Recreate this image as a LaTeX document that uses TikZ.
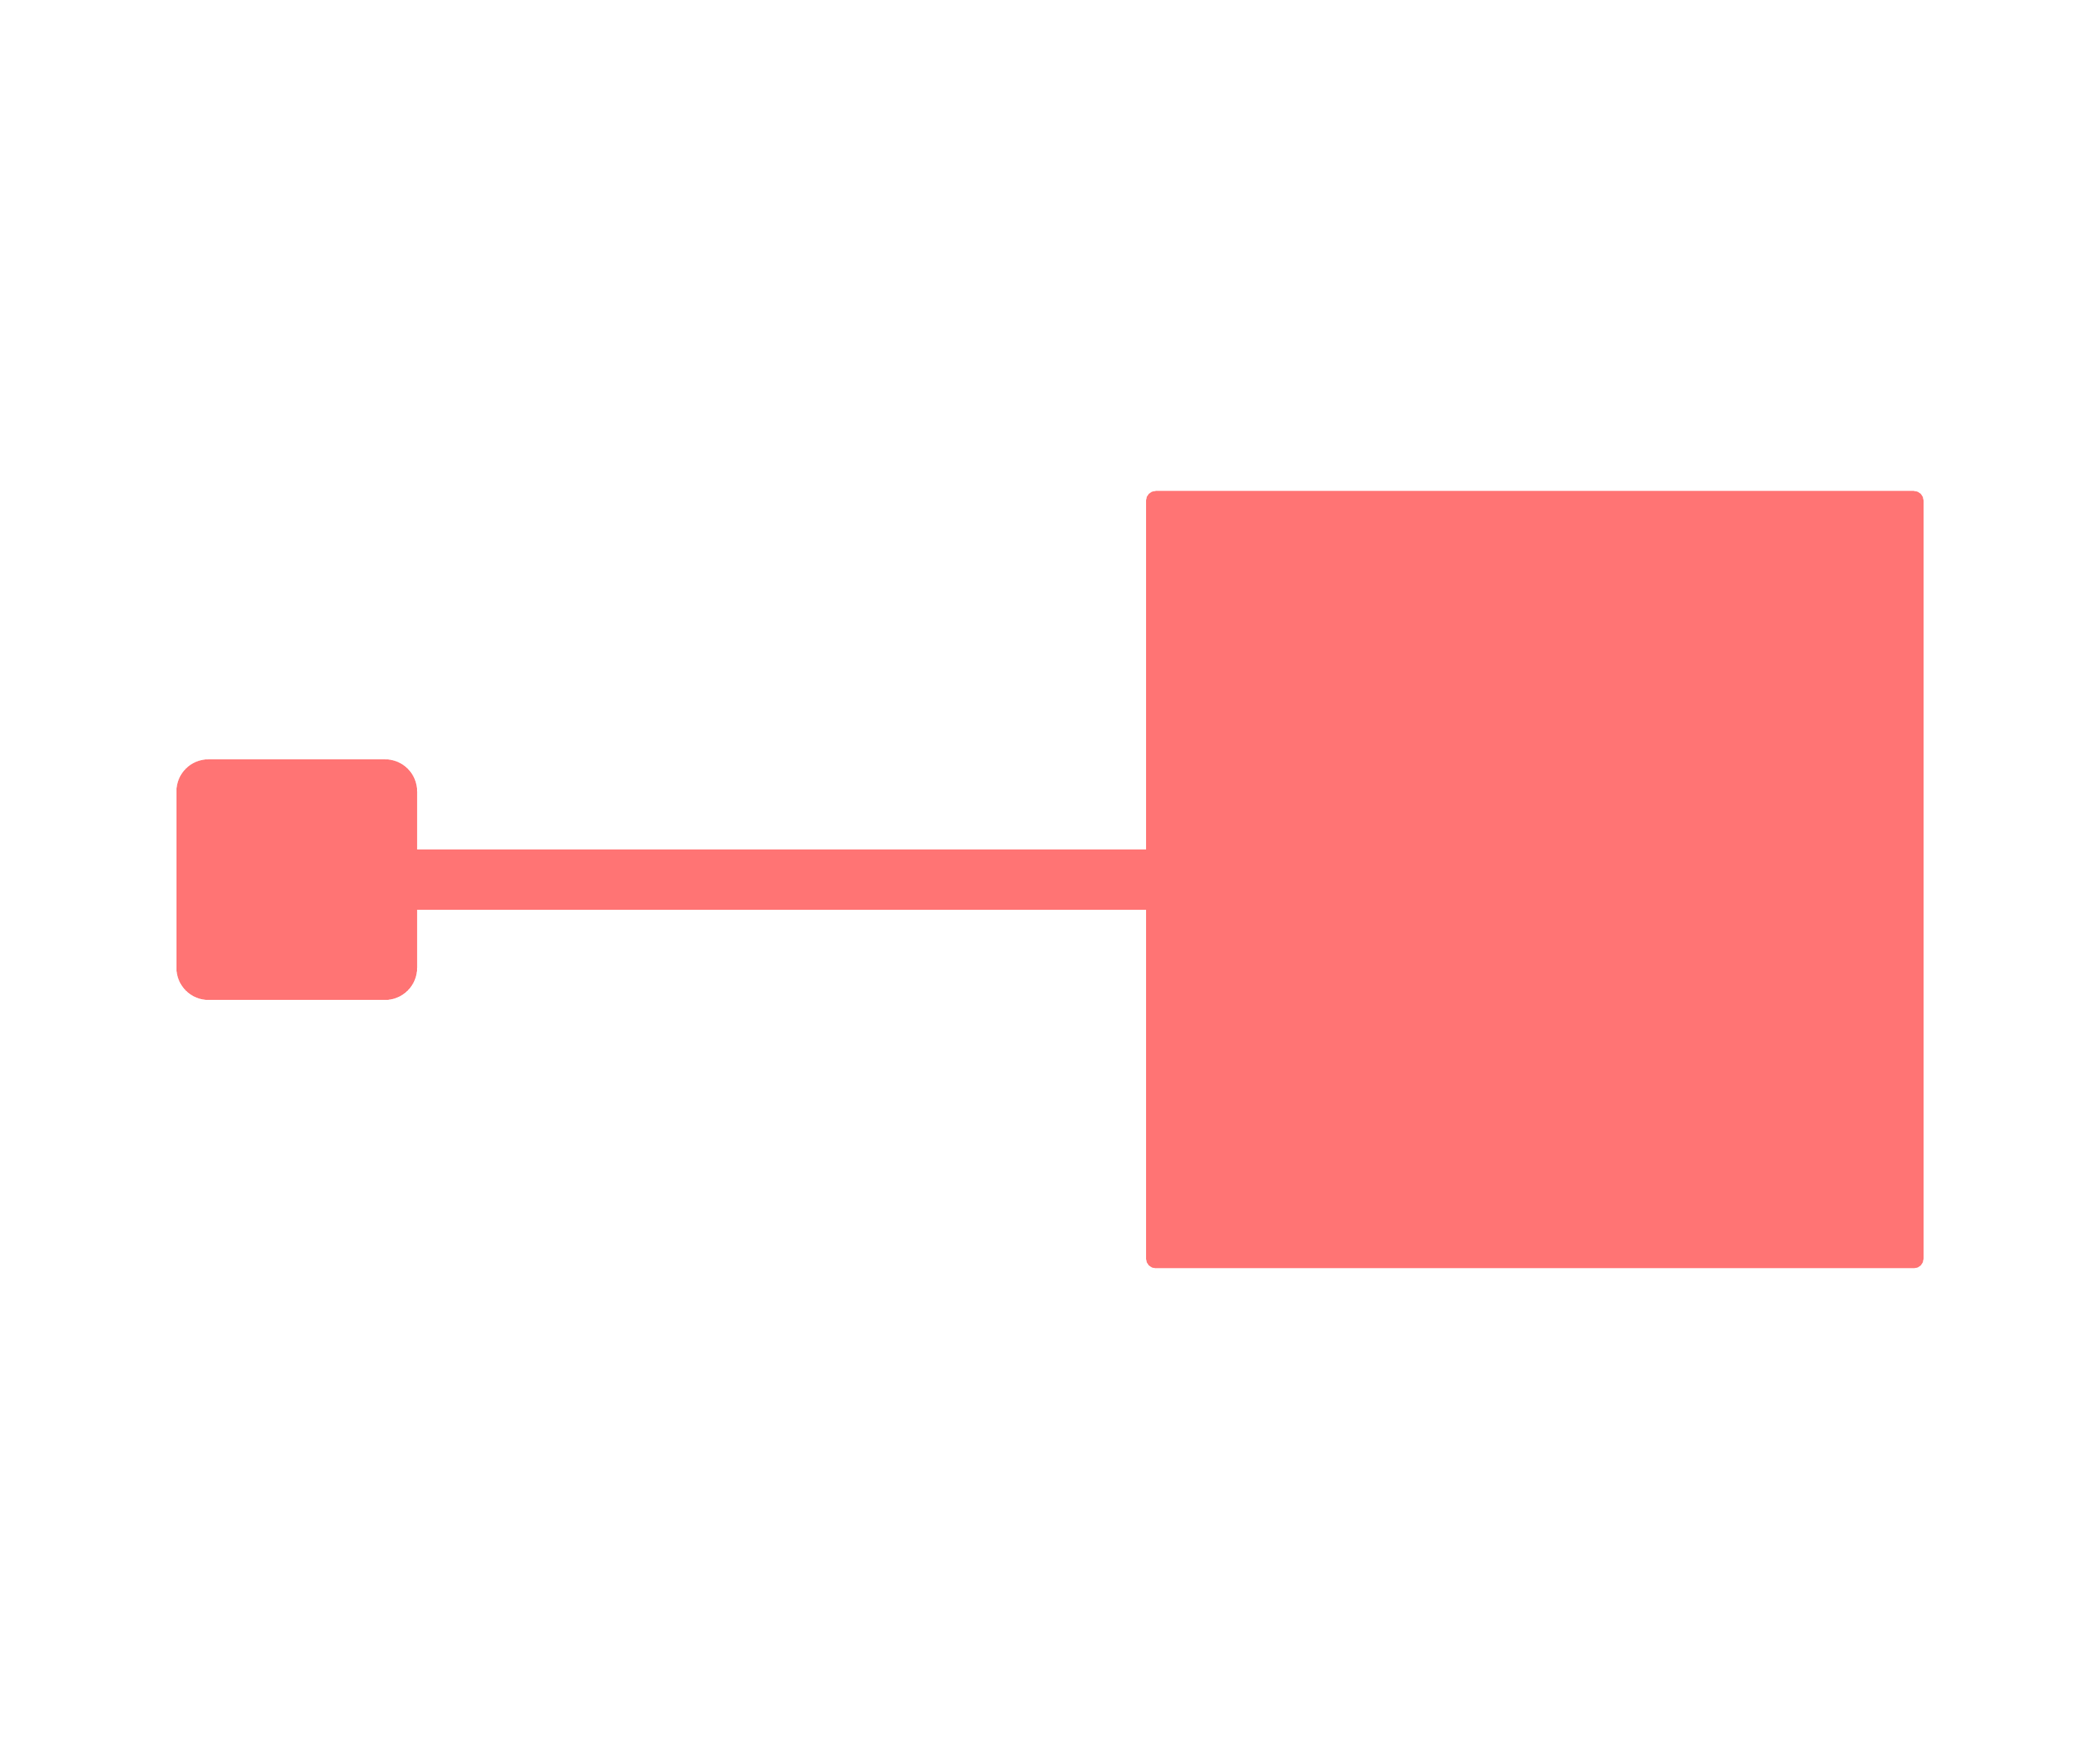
\documentclass[tikz,border=0pt]{standalone}
\usepackage{tikz}
\usetikzlibrary{positioning}
\definecolor{salmon}{HTML}{FF7474}

\begin{document}
\begin{tikzpicture}[
        smallbox/.style={fill=salmon, draw=none, inner sep=0, outer sep=0, minimum size=3.23cm, rounded corners=0.43cm},
        bigbox/.style={fill=salmon, draw=none, inner sep=0, outer sep=0, minimum size=10.44cm, rounded corners=0.13cm},
        bar/.style={draw=salmon, line width=0.805cm}
    ]
                % Drawing the frame
                \useasboundingbox (0,0) rectangle (28.2,23.64);
                \fill[white] (0,0) rectangle (28.2,23.64);

                % Drawing the boxes
                \node[smallbox] (left) at (3.985,11.825) {};
                \node[bigbox] (right) at (20.61,11.825) {};

                % Drawing the bar
                \draw[bar] (left.east) -- (right.west);
            \end{tikzpicture}
\end{document}
